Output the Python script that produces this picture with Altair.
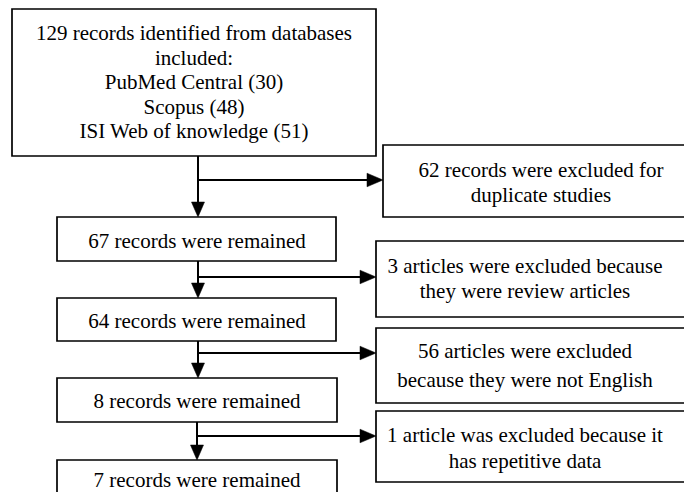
import altair as alt
import pandas as pd

# ---- content ----
main_labels = [
    ["129 records identified from databases", "included:", "PubMed Central (30)",
     "Scopus (48)", "ISI Web of knowledge (51)"],
    ["67 records were remained"],
    ["64 records were remained"],
    ["8 records were remained"],
    ["7 records were remained"],
]
excluded_labels = [
    ["62 records were excluded for", "duplicate studies"],
    ["3 articles were excluded because", "they were review articles"],
    ["56 articles were excluded", "because they were not English"],
    ["1 article was excluded because it", "has repetitive data"],
]

# ---- layout (pixel-like coordinates) ----
main_x1 = [12, 57, 57, 57, 57]
main_x2 = [376, 336, 336, 337, 337]
main_y1 = [9, 217, 298, 378, 460]
main_y2 = [156, 261, 341, 422, 512]
main_text_x = [194, 197, 197, 197, 197]
main_text_y0 = [40, 248, 328, 408, 487]

exc_x1 = [383, 376, 376, 376]
exc_x2 = [702, 702, 702, 702]
exc_y1 = [145, 241, 328, 411]
exc_y2 = [217, 317, 403, 482]
exc_text_x = [541, 525, 525, 525]
exc_text_y0 = [177, 273, 358, 442]
exc_line_gap = [25, 25, 29, 26]

spine_x = [198, 198, 198, 197]
branch_y = [180, 277, 353, 436]

LINE_GAP = 24.5
FONT = "Liberation Serif, Times New Roman, Times, DejaVu Serif, serif"
FS = 21

W, H = 676, 484
xs = alt.Scale(domain=[8, 8 + W], nice=False, zero=False)
ys = alt.Scale(domain=[8, 8 + H], nice=False, zero=False, reverse=True)

boxes = []
for i in range(5):
    boxes.append(dict(x1=main_x1[i], x2=main_x2[i], y1=main_y1[i], y2=main_y2[i]))
for i in range(4):
    boxes.append(dict(x1=exc_x1[i], x2=exc_x2[i], y1=exc_y1[i], y2=exc_y2[i]))
boxes = pd.DataFrame(boxes)

texts = []
for i, lines in enumerate(main_labels):
    for j, t in enumerate(lines):
        texts.append(dict(t=t, x=main_text_x[i], y=main_text_y0[i] + j * LINE_GAP))
for i, lines in enumerate(excluded_labels):
    for j, t in enumerate(lines):
        texts.append(dict(t=t, x=exc_text_x[i], y=exc_text_y0[i] + j * exc_line_gap[i]))
texts = pd.DataFrame(texts)

lines = []
down_tips = []
right_tips = []
for i in range(4):
    lines.append(dict(x=spine_x[i], x2=spine_x[i], y=main_y2[i], y2=main_y1[i + 1] - 6))
    down_tips.append(dict(x=spine_x[i], y=main_y1[i + 1]))
    lines.append(dict(x=spine_x[i], x2=exc_x1[i] - 6, y=branch_y[i], y2=branch_y[i]))
    right_tips.append(dict(x=exc_x1[i], y=branch_y[i]))
lines = pd.DataFrame(lines)
down_tips = pd.DataFrame(down_tips)
right_tips = pd.DataFrame(right_tips)

rects = alt.Chart(boxes).mark_rect(
    fill="white", stroke="black", strokeWidth=1.7, clip=True
).encode(
    x=alt.X("x1:Q", scale=xs, axis=None), x2="x2:Q",
    y=alt.Y("y1:Q", scale=ys, axis=None), y2="y2:Q",
)

rules = alt.Chart(lines).mark_rule(color="black", strokeWidth=2).encode(
    x=alt.X("x:Q", scale=xs, axis=None), x2="x2:Q",
    y=alt.Y("y:Q", scale=ys, axis=None), y2="y2:Q",
)

down = alt.Chart(down_tips).mark_point(
    shape="M-0.87,-2 L0.87,-2 L0,0 Z", size=225, filled=True,
    fill="black", stroke="black", strokeWidth=0.5, opacity=1
).encode(
    x=alt.X("x:Q", scale=xs, axis=None), y=alt.Y("y:Q", scale=ys, axis=None)
)

right = alt.Chart(right_tips).mark_point(
    shape="M-2,-0.85 L-2,0.85 L0,0 Z", size=256, filled=True,
    fill="black", stroke="black", strokeWidth=0.5, opacity=1
).encode(
    x=alt.X("x:Q", scale=xs, axis=None), y=alt.Y("y:Q", scale=ys, axis=None)
)

txt = alt.Chart(texts).mark_text(
    font=FONT, fontSize=FS, color="black", align="center", baseline="alphabetic"
).encode(
    x=alt.X("x:Q", scale=xs, axis=None), y=alt.Y("y:Q", scale=ys, axis=None),
    text="t:N",
)

chart = alt.layer(rects, rules, down, right, txt).properties(
    width=W, height=H, padding=0, autosize=alt.AutoSizeParams(type="none"),
    background="white",
).configure_view(stroke=None)

chart.save("out.html", embed_options={"renderer": "svg", "actions": False})
